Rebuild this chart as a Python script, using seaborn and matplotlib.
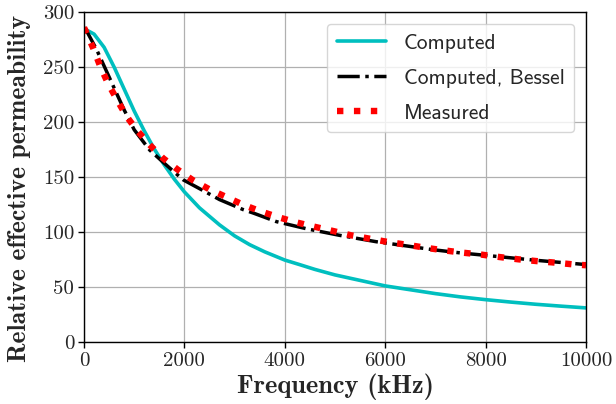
import matplotlib
matplotlib.use("Agg")
import matplotlib.pyplot as plt
import seaborn as sns

# ---- data ----
freq_computed = [0, 200, 400, 600, 800, 1000, 1200, 1400, 1600, 1800, 2000,
                 2300, 2700, 3000, 3300, 3600, 4000, 4300, 4600, 5000, 5500,
                 6000, 6500, 7000, 7500, 8000, 8500, 9000, 9500, 10000]
mu_computed = [285, 280, 268, 250, 230, 210, 192, 175.5, 161, 148, 136.5,
               122, 106.5, 96.5, 88.5, 82, 74.5, 70.3, 66, 61, 56,
               51, 47.5, 44, 41, 38.5, 36.3, 34.3, 32.6, 31]

freq_bessel = [0, 50, 250, 350, 500, 600, 800, 1000, 1200, 1310, 1600, 1975,
               2340, 2700, 3170, 3370, 3830, 4430, 5090, 5820, 6480, 6940,
               7500, 8000, 9000, 10000]
mu_bessel = [286, 283, 266, 256, 241, 231, 211, 193, 181, 174.5, 162.5, 147.5,
             138.5, 129.5, 120.4, 117.3, 109.5, 103, 97, 91.2, 87, 84,
             81, 78.8, 74.3, 70.4]

freq_measured = [0, 40, 185, 320, 480, 660, 850, 1055, 1305, 1570, 1865, 2173,
                 2491, 2837, 3167, 3519, 3877, 4229, 4592, 4957, 5322, 5686,
                 6050, 6420, 6790, 7160, 7530, 7910, 8270, 8650, 9010, 9380,
                 9740, 10000]
mu_measured = [286, 282, 267, 251, 235, 220, 205, 192.5, 179.4, 167.3, 156.8, 147,
               139, 131.8, 124.9, 118.8, 113.4, 108.8, 104.8, 101, 97, 94,
               91, 88.5, 85.8, 83.4, 81.3, 79.5, 77.3, 75.2, 73.6, 72.2,
               70.6, 69.8]

x_ticks = [0, 2000, 4000, 6000, 8000, 10000]
y_ticks = [0, 50, 100, 150, 200, 250, 300]
labels = ["Computed", "Computed, Bessel", "Measured"]

sns.set_theme(style="ticks")
plt.rcParams["axes.formatter.use_mathtext"] = True

fig = plt.figure(figsize=(6.16, 4.04), dpi=100)
ax = fig.add_axes([0.1364, 0.1535, 0.8149, 0.8165])

sns.lineplot(x=freq_computed, y=mu_computed, ax=ax, color=(0, 0.75, 0.75),
             linewidth=2.6, linestyle="-", label=labels[0])
sns.lineplot(x=freq_bessel, y=mu_bessel, ax=ax, color="black",
             linewidth=2.5, linestyle="-.", label=labels[1])
sns.lineplot(x=freq_measured, y=mu_measured, ax=ax, color="red",
             linewidth=4.6, linestyle=":", label=labels[2])

ax.set_xlim(0, 10000)
ax.set_ylim(0, 300)
ax.set_xticks(x_ticks)
ax.set_yticks(y_ticks)
ax.set_xticklabels([str(t) for t in x_ticks], family="cmr10", fontsize=15)
ax.set_yticklabels([str(t) for t in y_ticks], family="cmr10", fontsize=15)
ax.tick_params(axis="both", direction="out", length=4, width=1, color="black", pad=3)
ax.grid(True, color="#b0b0b0", linewidth=0.9)
for s in ax.spines.values():
    s.set_color("black")
    s.set_linewidth(1.0)

ax.set_xlabel("Frequency (kHz)", family="cmb10", fontsize=19, labelpad=3)
ax.set_ylabel("Relative effective permeability", family="cmb10", fontsize=18.5)
ax.yaxis.set_label_coords(-0.106, 0.465)

leg = ax.legend(loc="upper right", prop={"family": "cmss10", "size": 15.5},
                handlelength=2.3, handletextpad=0.8, frameon=True, fancybox=True,
                framealpha=0.8, edgecolor="#cccccc", borderpad=0.45,
                labelspacing=0.74, borderaxespad=0.55)
leg.get_frame().set_linewidth(1.0)

fig.savefig("out.png", dpi=100)
